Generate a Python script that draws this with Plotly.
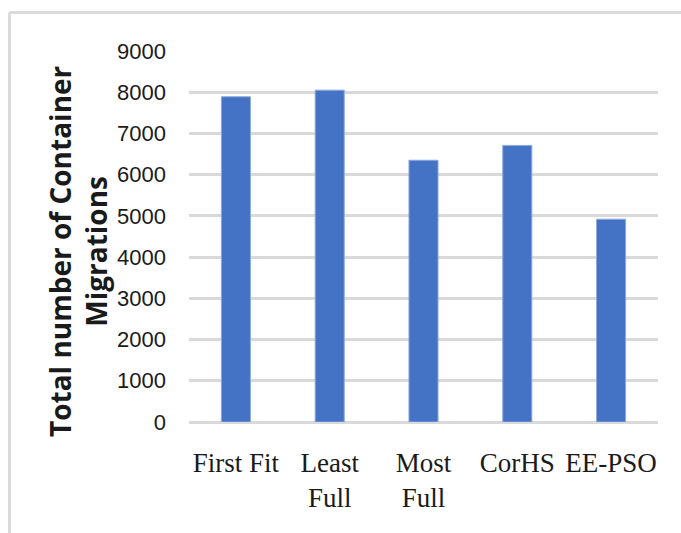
import plotly.graph_objects as go

# Container migration totals per placement strategy
categories = ["First Fit", "Least<br>Full", "Most<br>Full", "CorHS", "EE-PSO"]
migrations = [7890, 8050, 6350, 6710, 4920]
y_ticks = [0, 1000, 2000, 3000, 4000, 5000, 6000, 7000, 8000, 9000]

W, H = 681, 533
L, R, T, B = 189, 23, 51, 111

fig = go.Figure()
fig.add_trace(go.Bar(
    x=categories,
    y=migrations,
    marker=dict(color="#4472C4", line=dict(color="#8FAADC", width=1)),
    width=0.31,
))

fig.update_layout(
    width=W,
    height=H,
    margin=dict(l=L, r=R, t=T, b=B, pad=0),
    plot_bgcolor="white",
    paper_bgcolor="white",
    showlegend=False,
    bargap=0.69,
    xaxis=dict(
        showgrid=False,
        showline=False,
        zeroline=False,
        ticks="",
        tickfont=dict(family="Liberation Serif", size=27, color="#1a1a1a"),
        ticklabelstandoff=22,
    ),
    yaxis=dict(
        range=[0, 9000],
        tickvals=y_ticks,
        ticktext=[str(v) for v in y_ticks],
        showgrid=True,
        gridcolor="#D9D9D9",
        gridwidth=2.5,
        zeroline=True,
        zerolinecolor="#D9D9D9",
        zerolinewidth=3,
        showline=False,
        ticks="",
        tickfont=dict(family="Liberation Sans", size=22, color="#1a1a1a"),
        ticklabelstandoff=22,
    ),
)

# Y-axis title placed as a rotated annotation
fig.add_annotation(
    text="<b>Total number of Container</b><br><b>Migrations</b>",
    xref="paper", yref="paper",
    x=(78 - L) / (W - L - R),
    y=(H - B - 251) / (H - T - B),
    xanchor="center", yanchor="middle",
    textangle=-90,
    showarrow=False,
    font=dict(family="Open Sans", size=28, color="#1a1a1a"),
)

# Light frame around the chart area (top and left edges)
pw, ph = W - L - R, H - T - B
x0 = (9.5 - L) / pw
y0 = (H - B - 12.5) / ph
fig.add_shape(type="line", xref="paper", yref="paper",
              x0=x0, y0=y0, x1=(W + 5 - L) / pw, y1=y0,
              line=dict(color="#DADADA", width=3))
fig.add_shape(type="line", xref="paper", yref="paper",
              x0=x0, y0=y0, x1=x0, y1=(H - B - (H + 5)) / ph,
              line=dict(color="#DADADA", width=3))

fig.write_html("out.html")
